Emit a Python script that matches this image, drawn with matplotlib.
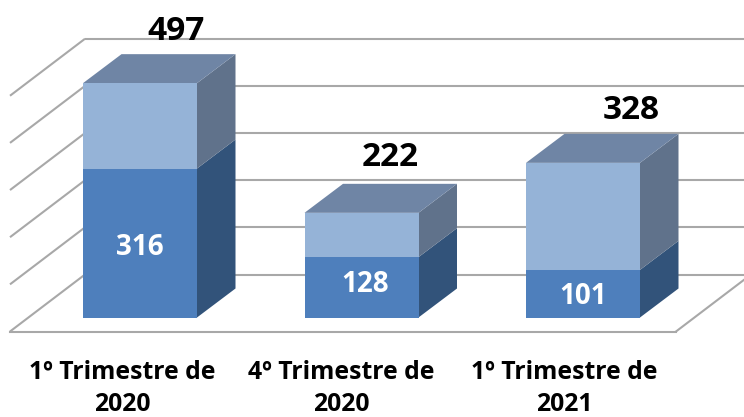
import matplotlib
matplotlib.use("Agg")
import matplotlib.pyplot as plt
import numpy as np

plt.rcParams['font.family'] = ['Open Sans', 'DejaVu Sans']

# Chart values
categories = ["1º Trimestre de\n2020", "4º Trimestre de\n2020", "1º Trimestre de\n2021"]
lower = [316, 128, 101]
upper = [181, 94, 227]
grid_values = [0, 100, 200, 300, 400, 500]

# Scales: one x unit is the category spacing, y is in chart values
px_x = 221.5
px_y = 0.4715
bar_w = 114 / px_x
depth_x = 38.5 / px_x
depth_y = 29 / px_y
wall_x = 75 / px_x
wall_y = 57 / px_y
floor_y = -14 / px_y
left = -130 / px_x
right = 536 / px_x

GRID = "#a8a8a8"
FRONT = ["#4e7fbc", "#95b3d7"]
SIDE = ["#32537a", "#60728b"]
TOP = "#6f85a5"

fig = plt.figure(figsize=(7.44, 4.17), dpi=100)
ax = fig.add_axes([0, 0, 1, 1])
ax.set_xlim(-140 / px_x, 604 / px_x)
ax.set_ylim(-99.5 / px_y, 317.5 / px_y)
ax.axis("off")

# Back wall, side wall and floor lines
for v in grid_values:
    ax.plot([left, left + wall_x], [v + floor_y, v + floor_y + wall_y],
            color=GRID, lw=1.5, solid_capstyle="butt", zorder=1)
    ax.plot([left + wall_x, 2.9], [v + floor_y + wall_y, v + floor_y + wall_y],
            color=GRID, lw=1.5, solid_capstyle="butt", zorder=1)
ax.plot([left, right], [floor_y, floor_y], color=GRID, lw=1.5, zorder=1)
ax.plot([right, right + wall_x], [floor_y, floor_y + wall_y], color=GRID, lw=1.5, zorder=1)


def draw_box(x, y0, y1, front, side):
    x0, x1 = x - bar_w / 2, x + bar_w / 2
    ax.fill([x0, x1, x1, x0], [y0, y0, y1, y1], color=front, lw=0, zorder=3)
    ax.fill([x1, x1 + depth_x, x1 + depth_x, x1],
            [y0, y0 + depth_y, y1 + depth_y, y1], color=side, lw=0, zorder=2)


for i in range(len(categories)):
    total = lower[i] + upper[i]
    draw_box(i, 0, lower[i], FRONT[0], SIDE[0])
    draw_box(i, lower[i], total, FRONT[1], SIDE[1])
    x0, x1 = i - bar_w / 2, i + bar_w / 2
    ax.fill([x0, x1, x1 + depth_x, x0 + depth_x],
            [total, total, total + depth_y, total + depth_y], color=TOP, lw=0, zorder=2)

# Labels
total_dx = [36 / px_x, 29 / px_x, 48 / px_x]
total_dy = [52 / px_y, 55 / px_y, 52 / px_y]
lower_y = [70 / px_y, 32.5 / px_y, 20.5 / px_y]
lower_dx = [0, 4 / px_x, 0]
cat_dx = [-18 / px_x, -20 / px_x, -19 / px_x]

for i in range(len(categories)):
    total = lower[i] + upper[i]
    ax.text(i + total_dx[i], total + total_dy[i], str(total), ha="center", va="center",
            fontsize=24, fontweight="bold", color="black", zorder=5)
    ax.text(i + lower_dx[i], lower_y[i], str(lower[i]), ha="center", va="center",
            fontsize=20, fontweight="bold", color="white", zorder=5)
    ax.text(i + cat_dx[i], -71 / px_y, categories[i], ha="center", va="center",
            fontsize=17.8, fontweight="bold", color="black", linespacing=1.4, zorder=5)

fig.savefig("out.png", dpi=100)
